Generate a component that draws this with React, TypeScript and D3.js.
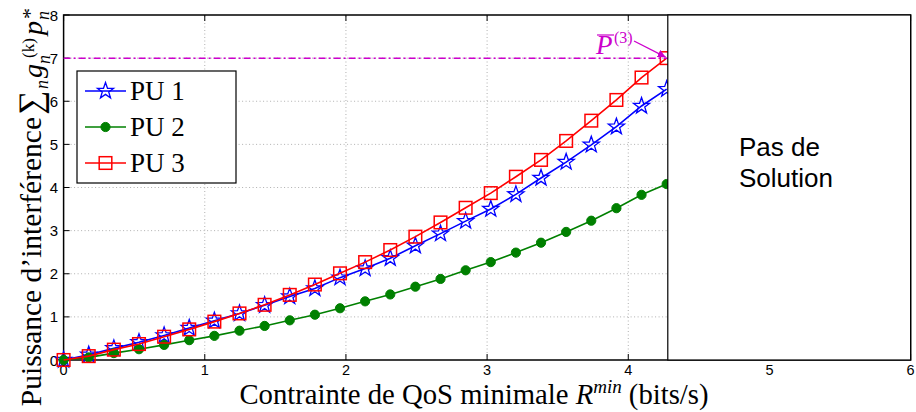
import React from "react";
import * as d3 from "d3";

const rateX = [0, 0.178, 0.356, 0.534, 0.712, 0.89, 1.068, 1.246, 1.424, 1.602, 1.78, 1.958, 2.136, 2.314, 2.492, 2.67, 2.848, 3.026, 3.204, 3.382, 3.56, 3.738, 3.916, 4.094, 4.272];
const pu1 = [0, 0.12, 0.27, 0.41, 0.57, 0.74, 0.91, 1.08, 1.27, 1.47, 1.66, 1.91, 2.12, 2.36, 2.65, 2.93, 3.22, 3.5, 3.84, 4.22, 4.59, 4.99, 5.41, 5.89, 6.28];
const pu2 = [0, 0.06, 0.16, 0.25, 0.35, 0.46, 0.56, 0.68, 0.79, 0.92, 1.05, 1.2, 1.36, 1.52, 1.7, 1.88, 2.08, 2.27, 2.49, 2.72, 2.97, 3.23, 3.52, 3.83, 4.08];
const pu3 = [0, 0.09, 0.24, 0.37, 0.54, 0.71, 0.89, 1.08, 1.28, 1.51, 1.75, 2.01, 2.27, 2.55, 2.86, 3.19, 3.53, 3.87, 4.25, 4.64, 5.08, 5.55, 6.03, 6.55, 7.0];
const seriesNames = ["PU 1", "PU 2", "PU 3"];
const xTicks = [0, 1, 2, 3, 4, 5, 6];
const yTicks = [0, 1, 2, 3, 4, 5, 6, 7, 8];
const pBar = 7;
const noSolutionStart = 4.28;

const W = 916, H = 412;
const x = d3.scaleLinear().domain([0, 6]).range([63.6, 910.6]);
const y = d3.scaleLinear().domain([0, 8]).range([360, 15]);

function starPath(cx: number, cy: number, R: number, r: number) {
  const pts: string[] = [];
  for (let i = 0; i < 10; i++) {
    const a = -Math.PI / 2 + (i * Math.PI) / 5;
    const rad = i % 2 === 0 ? R : r;
    pts.push(`${cx + rad * Math.cos(a)},${cy + rad * Math.sin(a)}`);
  }
  return "M" + pts.join("L") + "Z";
}

const BLUE = "#0000ff", GREEN = "#008000", RED = "#ff0000", MAG = "#cc00cc";
const serif = "'Liberation Serif', 'Times New Roman', serif";
const sans = "'Liberation Sans', Arial, sans-serif";

function Marker({ kind, cx, cy }: { kind: number; cx: number; cy: number }) {
  if (kind === 0) return <path d={starPath(cx, cy, 8.5, 3.4)} fill="none" stroke={BLUE} strokeWidth={1.3} />;
  if (kind === 1) return <circle cx={cx} cy={cy} r={4.6} fill={GREEN} stroke={GREEN} strokeWidth={1} />;
  return <rect x={cx - 6.3} y={cy - 6.3} width={12.6} height={12.6} fill="none" stroke={RED} strokeWidth={1.5} />;
}

export default function App() {
  const data = [pu1, pu2, pu3];
  const colors = [BLUE, GREEN, RED];
  const line = d3.line<number>().x((_, i) => x(rateX[i])).y((v) => y(v));
  const x0 = x(0), x1 = x(6), yb = y(0), yt = y(8);
  const boxX = x(noSolutionStart);
  return (
    <svg width={W} height={H} style={{ position: "absolute", left: 0, top: 0, background: "#fff" }}>
      <rect x={0} y={0} width={W} height={H} fill="#fff" />
      {/* grid */}
      {xTicks.slice(1, -1).map((t) => (
        <line key={"gx" + t} x1={x(t)} x2={x(t)} y1={yb} y2={yt} stroke="#b0b0b0" strokeWidth={1} strokeDasharray="1 2.5" />
      ))}
      {yTicks.slice(1, -1).map((t) => (
        <line key={"gy" + t} x1={x0} x2={x1} y1={y(t)} y2={y(t)} stroke="#b0b0b0" strokeWidth={1} strokeDasharray="1 2.5" />
      ))}
      {/* frame */}
      <rect x={x0} y={yt} width={x1 - x0} height={yb - yt} fill="none" stroke="#000" strokeWidth={1.5} />
      {xTicks.map((t) => (
        <g key={"tx" + t}>
          <line x1={x(t)} x2={x(t)} y1={yb} y2={yb - 6} stroke="#000" strokeWidth={1} />
          <line x1={x(t)} x2={x(t)} y1={yt} y2={yt + 6} stroke="#000" strokeWidth={1} />
          <text x={x(t)} y={374.5} textAnchor="middle" fontFamily={sans} fontSize={14.5}>{t}</text>
        </g>
      ))}
      {yTicks.map((t) => (
        <g key={"ty" + t}>
          <line x1={x0} x2={x0 + 6} y1={y(t)} y2={y(t)} stroke="#000" strokeWidth={1} />
          <text x={58} y={y(t) + 5.5} textAnchor="end" fontFamily={sans} fontSize={15}>{t}</text>
        </g>
      ))}
      {/* series */}
      {data.map((s, k) => (
        <g key={"s" + k}>
          <path d={line(s) || ""} fill="none" stroke={colors[k]} strokeWidth={1.6} />
          {s.map((v, i) => (
            <Marker key={i} kind={k} cx={x(rateX[i])} cy={y(v)} />
          ))}
        </g>
      ))}
      {/* P bar line */}
      <line x1={x0} x2={boxX} y1={y(pBar)} y2={y(pBar)} stroke={MAG} strokeWidth={1.5} strokeDasharray="7 3 2 3" />
      <defs>
        <marker id="arr" viewBox="0 0 10 10" refX="10" refY="5" markerWidth="8" markerHeight="8" orient="auto" markerUnits="userSpaceOnUse">
          <path d="M0,0L10,5L0,10Z" fill={MAG} />
        </marker>
      </defs>
      <line x1={634} y1={41} x2={x(4.265)} y2={y(pBar) - 1} stroke={MAG} strokeWidth={1.3} markerEnd="url(#arr)" />
      <text x={596} y={54} fontFamily={serif} fontStyle="italic" fontSize={27} fill={MAG}>P</text>
      <line x1={597} x2={614} y1={35} y2={35} stroke={MAG} strokeWidth={1.2} />
      <text x={614} y={43} fontFamily={serif} fontSize={16} fill={MAG}>(3)</text>
      {/* no solution box */}
      <rect x={boxX} y={yt} width={x1 - boxX} height={yb - yt} fill="#fff" stroke="#000" strokeWidth={1.2} />
      <text x={739} y={156} fontFamily={sans} fontSize={26}>Pas de</text>
      <text x={739} y={187} fontFamily={sans} fontSize={26}>Solution</text>
      {/* legend */}
      <rect x={77} y={71} width={159} height={112} fill="#fff" stroke="#000" strokeWidth={1.2} />
      {seriesNames.map((n, k) => {
        const ly = 91 + k * 36;
        return (
          <g key={"l" + k}>
            <line x1={85} x2={126} y1={ly} y2={ly} stroke={colors[k]} strokeWidth={1.6} />
            <Marker kind={k} cx={105.5} cy={ly} />
            <text x={130} y={ly + 9} fontFamily={serif} fontSize={27}>{n}</text>
          </g>
        );
      })}
      {/* axis labels */}
      <text x={474} y={404} textAnchor="middle" fontFamily={serif} fontSize={28.7}>
        <tspan>Contrainte de QoS minimale </tspan>
        <tspan fontStyle="italic">R</tspan>
        <tspan fontStyle="italic" fontSize={19} dy={-11}>min</tspan>
        <tspan dy={11}> (bits/s)</tspan>
      </text>
      <g transform="translate(41,0) rotate(-90)" fontFamily={serif}>
        <text x={-117} y={0} textAnchor="end" fontSize={29.5}>Puissance d’interférence</text>
        <text x={-115} y={1} fontSize={34}>∑</text>
        <text x={-89} y={7} fontSize={18} fontStyle="italic">n</text>
        <text x={-78} y={1} fontSize={28} fontStyle="italic">g</text>
        <text x={-64} y={9} fontSize={18} fontStyle="italic">n</text>
        <text x={-58} y={-7} fontSize={17}>(k)</text>
        <text x={-35} y={1} fontSize={28} fontStyle="italic">p</text>
        <text x={-20} y={8} fontSize={18} fontStyle="italic">n</text>
        <text x={-19} y={-4} fontSize={22}>*</text>
      </g>
    </svg>
  );
}
